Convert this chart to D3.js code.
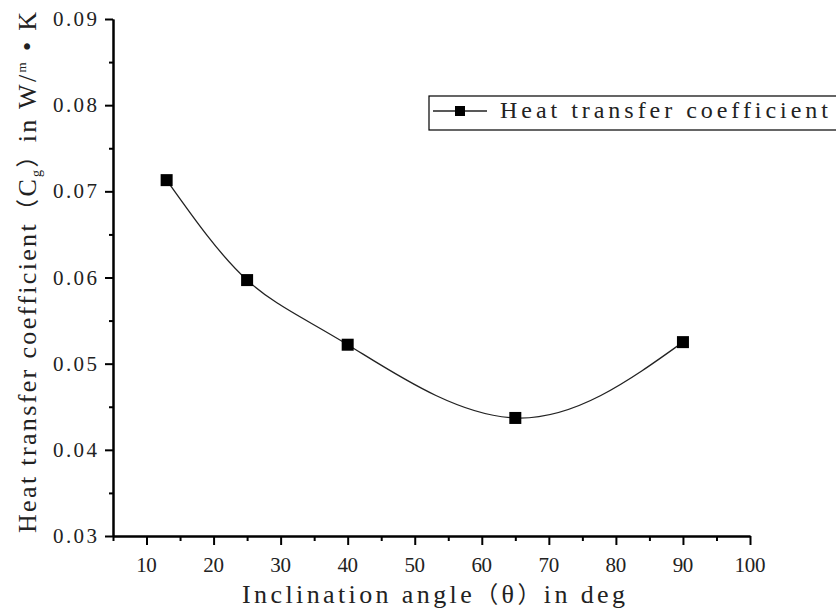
<!DOCTYPE html>
<html><head><meta charset="utf-8">
<script src="https://cdn.jsdelivr.net/npm/d3@7"></script>
<style>body{margin:0;background:#fff}</style>
</head><body>
<svg id="c" width="836" height="611"></svg>
<script>
const angles = [13, 25, 40, 65, 90];
const coeffs = [0.0713, 0.0597, 0.0522, 0.0437, 0.0525];
const xMajorTicks = [10, 20, 30, 40, 50, 60, 70, 80, 90, 100];
const xMinorTicks = [5, 15, 25, 35, 45, 55, 65, 75, 85, 95];
const yMajorTicks = [0.03, 0.04, 0.05, 0.06, 0.07, 0.08, 0.09];
const yMinorTicks = [0.035, 0.045, 0.055, 0.065, 0.075, 0.085];
const seriesName = "Heat transfer coefficient";

const svg = d3.select("#c");
const FONT = "'Liberation Serif', 'Noto Sans CJK SC', serif";
const CJK = "'Noto Sans CJK SC'";
const x = d3.scaleLinear().domain([5, 100]).range([113, 750]);
const y = d3.scaleLinear().domain([0.03, 0.09]).range([536, 19]);

function styleAxis(g) {
  g.selectAll("path.domain").attr("stroke", "#000").attr("stroke-width", 2);
  g.selectAll(".tick line").attr("stroke", "#000").attr("stroke-width", 2);
  g.selectAll(".tick text").remove();
}
svg.append("g").attr("transform", `translate(0,${y(0.03)})`)
  .call(d3.axisBottom(x).tickValues(xMajorTicks).tickSize(9).tickSizeOuter(0).tickFormat(""))
  .call(styleAxis);
svg.append("g").attr("transform", `translate(0,${y(0.03)})`)
  .call(d3.axisBottom(x).tickValues(xMinorTicks).tickSize(5).tickSizeOuter(0).tickFormat(""))
  .call(styleAxis);
svg.append("g").attr("transform", `translate(${x(5)},0)`)
  .call(d3.axisLeft(y).tickValues(yMajorTicks).tickSize(8).tickSizeOuter(0).tickFormat(""))
  .call(styleAxis);
svg.append("g").attr("transform", `translate(${x(5)},0)`)
  .call(d3.axisLeft(y).tickValues(yMinorTicks).tickSize(4).tickSizeOuter(0).tickFormat(""))
  .call(styleAxis);

// x tick labels
xMajorTicks.forEach(v => {
  const s = String(v);
  svg.append("text")
    .attr("x", x(v)).attr("y", 572)
    .attr("text-anchor", "middle").attr("font-family", FONT).attr("font-size", 21)
    .attr("textLength", s.length * 10.3).attr("lengthAdjust", "spacing")
    .attr("fill", "#222").text(s);
});
// y tick labels
yMajorTicks.forEach(v => {
  svg.append("text")
    .attr("x", 97).attr("y", y(v) + 7)
    .attr("text-anchor", "end").attr("font-family", FONT).attr("font-size", 21)
    .attr("textLength", 44).attr("lengthAdjust", "spacing")
    .attr("fill", "#222").text(d3.format(".2f")(v));
});

// curve
svg.append("path")
  .datum(angles.map((a, i) => [a, coeffs[i]]))
  .attr("fill", "none").attr("stroke", "#222").attr("stroke-width", 1.3)
  .attr("d", d3.line().x(d => x(d[0])).y(d => y(d[1])).curve(d3.curveNatural));
svg.selectAll("rect.m").data(angles).enter().append("rect")
  .attr("class", "m")
  .attr("x", d => x(d) - 6).attr("y", (d, i) => y(coeffs[i]) - 6)
  .attr("width", 12).attr("height", 12).attr("fill", "#000");

// x title
const xt = svg.append("text")
  .attr("x", 242).attr("y", 603)
  .attr("textLength", 383).attr("lengthAdjust", "spacing")
  .attr("font-family", FONT).attr("font-size", 26).attr("fill", "#222");
xt.append("tspan").text("Inclination angle");
xt.append("tspan").attr("font-family", CJK).attr("font-size", 23).text("（");
xt.append("tspan").text("θ");
xt.append("tspan").attr("font-family", CJK).attr("font-size", 23).text("）");
xt.append("tspan").text("in deg");

// y title
const yt = svg.append("text")
  .attr("transform", "translate(36,533) rotate(-90)")
  .attr("x", 0).attr("y", 0)
  .attr("textLength", 521).attr("lengthAdjust", "spacing")
  .attr("font-family", FONT).attr("font-size", 26).attr("fill", "#222");
yt.append("tspan").text("Heat transfer coefficient");
yt.append("tspan").attr("font-family", CJK).attr("font-size", 23).text("（");
yt.append("tspan").text("C");
yt.append("tspan").attr("font-size", 14).attr("dy", 5).text("g");
yt.append("tspan").attr("dy", -5).attr("font-family", CJK).attr("font-size", 23).text("）");
yt.append("tspan").text("in W/");
yt.append("tspan").attr("font-size", 13).attr("dy", -10).text("m");
yt.append("tspan").attr("dy", 10).text(" • K");

// legend
const lg = svg.append("g");
lg.append("rect").attr("x", 429).attr("y", 96).attr("width", 420).attr("height", 34)
  .attr("fill", "#fff").attr("stroke", "#000").attr("stroke-width", 1.2);
lg.append("line").attr("x1", 433).attr("x2", 487).attr("y1", 111).attr("y2", 111)
  .attr("stroke", "#222").attr("stroke-width", 1.3);
lg.append("rect").attr("x", 455).attr("y", 106).attr("width", 10).attr("height", 10).attr("fill", "#000");
lg.append("text").attr("x", 500).attr("y", 118)
  .attr("textLength", 328).attr("lengthAdjust", "spacing")
  .attr("font-family", FONT).attr("font-size", 24).attr("fill", "#222").text(seriesName);
</script>
</body></html>
